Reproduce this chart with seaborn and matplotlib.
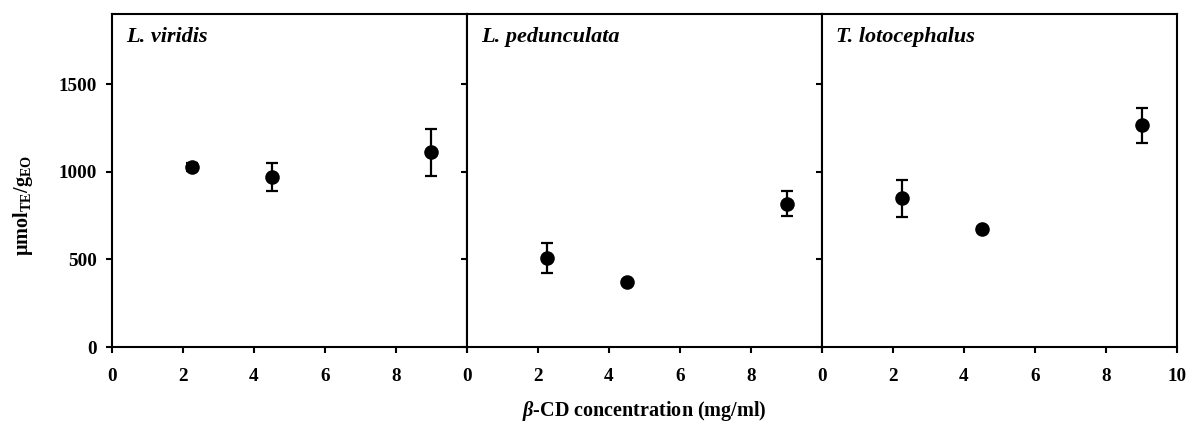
import numpy as np
import pandas as pd
import seaborn as sns
import matplotlib
matplotlib.use("Agg")
import matplotlib.pyplot as plt

sns.set_theme(style="ticks")
plt.rcParams["font.family"] = ["Liberation Serif", "DejaVu Serif"]
plt.rcParams["font.weight"] = "bold"
plt.rcParams["text.color"] = "black"
plt.rcParams["axes.labelcolor"] = "black"
plt.rcParams["mathtext.fontset"] = "custom"
plt.rcParams["mathtext.rm"] = "Liberation Serif:bold"
plt.rcParams["mathtext.bf"] = "Liberation Serif:bold"
plt.rcParams["mathtext.it"] = "Liberation Serif:italic:bold"

# beta-cyclodextrin concentration (mg/ml)
concentration = [2.25, 4.5, 9.0]

species = ["L. viridis", "L. pedunculata", "T. lotocephalus"]

# antioxidant activity (µmol TE / g EO), mean and standard deviation
viridis_mean = [1025, 970, 1110]
viridis_sd = [22, 80, 134]
pedunculata_mean = [510, 370, 818]
pedunculata_sd = [85, 12, 73]
lotocephalus_mean = [848, 673, 1265]
lotocephalus_sd = [105, 10, 100]

means = [viridis_mean, pedunculata_mean, lotocephalus_mean]
sds = [viridis_sd, pedunculata_sd, lotocephalus_sd]

frames = []
for name, m, s in zip(species, means, sds):
    frames.append(pd.DataFrame({"species": name, "conc": concentration,
                                "activity": m, "sd": s}))
df = pd.concat(frames, ignore_index=True)

W, H = 1189, 421
fig = plt.figure(figsize=(W / 100, H / 100), dpi=100)

left_px, right_px = 112, 1177
top_px, bottom_px = 14, 347
panel_w = (right_px - left_px) / 3

fs = 13.8
for i, name in enumerate(species):
    x0 = left_px + i * panel_w
    ax = fig.add_axes([x0 / W, 1 - bottom_px / H, panel_w / W,
                       (bottom_px - top_px) / H])
    sub = df[df["species"] == name]
    ax.errorbar(sub["conc"], sub["activity"], yerr=sub["sd"], fmt="none",
                ecolor="black", elinewidth=1.6, capsize=4.5, capthick=1.6,
                zorder=2)
    sns.scatterplot(data=sub, x="conc", y="activity", ax=ax, color="black",
                    s=110, edgecolor="black", linewidth=0, zorder=3,
                    legend=False)
    ax.set_xlim(0, 10)
    ax.set_ylim(0, 1900)
    ax.set_xticks([0, 2, 4, 6, 8, 10])
    if i < 2:
        ax.set_xticklabels(["0", "2", "4", "6", "8", ""])
    else:
        ax.set_xticklabels(["0", "2", "4", "6", "8", "10"])
    ax.set_yticks([0, 500, 1000, 1500])
    if i == 0:
        ax.set_yticklabels(["0", "500", "1000", "1500"])
    else:
        ax.set_yticklabels([])
    ax.set_xlabel("")
    ax.set_ylabel("")
    for sp in ax.spines.values():
        sp.set_visible(True)
        sp.set_linewidth(1.5)
        sp.set_color("black")
    ax.tick_params(axis="both", direction="out", length=4, width=1.5,
                   colors="black", labelsize=fs)
    ax.tick_params(axis="x", pad=11)
    ax.tick_params(axis="y", pad=7)
    for lab in ax.get_xticklabels() + ax.get_yticklabels():
        lab.set_fontweight("bold")
    ax.text(0.04, 0.93, name, transform=ax.transAxes, fontsize=16,
            fontweight="bold", fontstyle="italic", va="center", ha="left")

fig.text(23 / W, 1 - 205 / H, "µmol$_\\mathrm{TE}$/g$_\\mathrm{EO}$",
         rotation=90, ha="center", va="center", fontsize=14.5,
         fontweight="bold")
fig.text(644 / W, 1 - 411 / H, "$\\beta$-CD concentration (mg/ml)",
         ha="center", va="center", fontsize=14.5, fontweight="bold")

fig.savefig("out.png", dpi=100)
